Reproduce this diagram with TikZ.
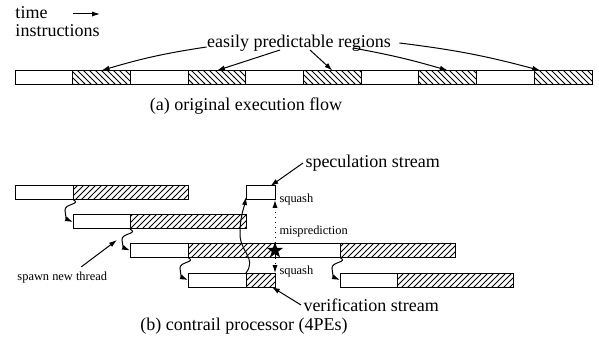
\documentclass[tikz,border=0pt]{standalone}
\usepackage{fontspec}
\setmainfont{Liberation Serif}
\usetikzlibrary{patterns,shapes.geometric,calc,arrows.meta}
\newcommand{\chunk}[4]{%
 \node[chunk,minimum width={#3*0.5pt},#4] (#1) at (#2) {};%
}
\newcommand{\spawn}[2]{%
 \draw[->] (#1) .. controls ($(#1)+(9,5)$) and ($(#1)+(-9,4)$) .. ($(#1)+(-8,11)$)%
  .. controls ($(#1)+(-7,17)$) and ($(#2)+(-7,-3)$) .. (#2);%
}

\begin{document}
\begin{tikzpicture}[x=0.5pt,y=-0.5pt,line width=0.5pt,>={Latex[length=4pt,width=2.6pt]},
  chunk/.style={draw,anchor=west,minimum height=7pt,inner sep=0,outer sep=0},
  back/.style={pattern=north west lines},
  fwd/.style={pattern=north east lines},
  big/.style={font=\fontsize{9}{10}\selectfont,inner sep=1pt},
  small/.style={font=\fontsize{6.2}{7}\selectfont,inner sep=1pt}]
  \useasboundingbox (0,0) rectangle (599,347);
  \node[big,anchor=west] (time) at (13,13) {time};
  \node[big,anchor=west] (instr) at (13,31) {instructions};
  \coordinate (t0) at (73,14);
  \coordinate (t1) at (100,14);
  \draw[->] (t0) -- (t1);
  \foreach \i in {1,...,10} {
    \pgfmathsetmacro\xx{15+57.7*(\i-1)}
    \ifodd\i \chunk{t\i}{\xx,77.5}{57.7}{} \else \chunk{t\i}{\xx,77.5}{57.7}{back} \fi
  }
  \node[big] (easy) at (299,43) {easily predictable regions};
  \draw[->] ($(easy.west)+(2,4)$) to[bend right=4] (t2.north);
  \draw[->] ($(easy)+(-19,7)$) -- (t4.north);
  \draw[->] ($(easy)+(11,7)$) -- (t6.north);
  \draw[->] ($(easy)+(54,5)$) to[bend left=3] (t8.north);
  \draw[->] ($(easy.east)+(6,0)$) to[bend left=4] ([xshift=3pt]t10.north west);
  \node[big] (capa) at (246,106) {(a) original execution flow};

  \chunk{p1w}{15,192.5}{58}{}
  \chunk{p1h}{73,192.5}{115}{fwd}
  \chunk{p2w}{73,222}{57}{}
  \chunk{p2h}{130,222}{116}{fwd}
  \chunk{p3w}{130,250.5}{58}{}
  \chunk{p3h}{188,250.5}{87}{fwd}
  \chunk{p3r}{275,250.5}{65}{}
  \chunk{p3s}{340,250.5}{115}{fwd}
  \chunk{p4w}{188,280}{58}{}
  \chunk{p4h}{246,280}{29}{fwd}
  \chunk{p5w}{340,280}{57}{}
  \chunk{p5h}{397,280}{116}{fwd}
  \chunk{spec}{246,193}{29}{}
  \spawn{p1w.south east}{p2w.west}
  \spawn{p2w.south east}{p3w.west}
  \spawn{p3w.south east}{p4w.west}
  \spawn{p3r.south east}{p5w.west}
  \draw[->] (p4h.north west) .. controls (257,258) and (240,252) .. (240,234)
    .. controls (240,216) and (244,208) .. ([yshift=-2pt]spec.west);
  \draw[<->,dotted] (spec.south east) -- (p4h.north east);
  \node[star,star points=5,star point ratio=2.5,fill,inner sep=0,minimum size=8.5pt] (miss) at (p3h.east) {};
  \node[small,anchor=west] (sq1) at (277,200) {squash};
  \node[small,anchor=west] (mp) at (277,232) {misprediction};
  \node[small,anchor=west] (sq2) at (277,272) {squash};
  \node[big,anchor=west] (specl) at (303,163) {speculation stream};
  \draw[->] (specl.west) -- (spec);
  \node[big,anchor=west] (verl) at (301,305) {verification stream};
  \draw[->] (verl.west) -- (p4h);
  \node[small,anchor=west] (spl) at (15,278) {spawn new thread};
  \coordinate (spt) at (117,240);
  \draw[->] ($(spl.north)+(19,-3)$) -- (spt);
  \node[big] (capb) at (244,326) {(b) contrail processor (4PEs)};
\end{tikzpicture}
\end{document}
